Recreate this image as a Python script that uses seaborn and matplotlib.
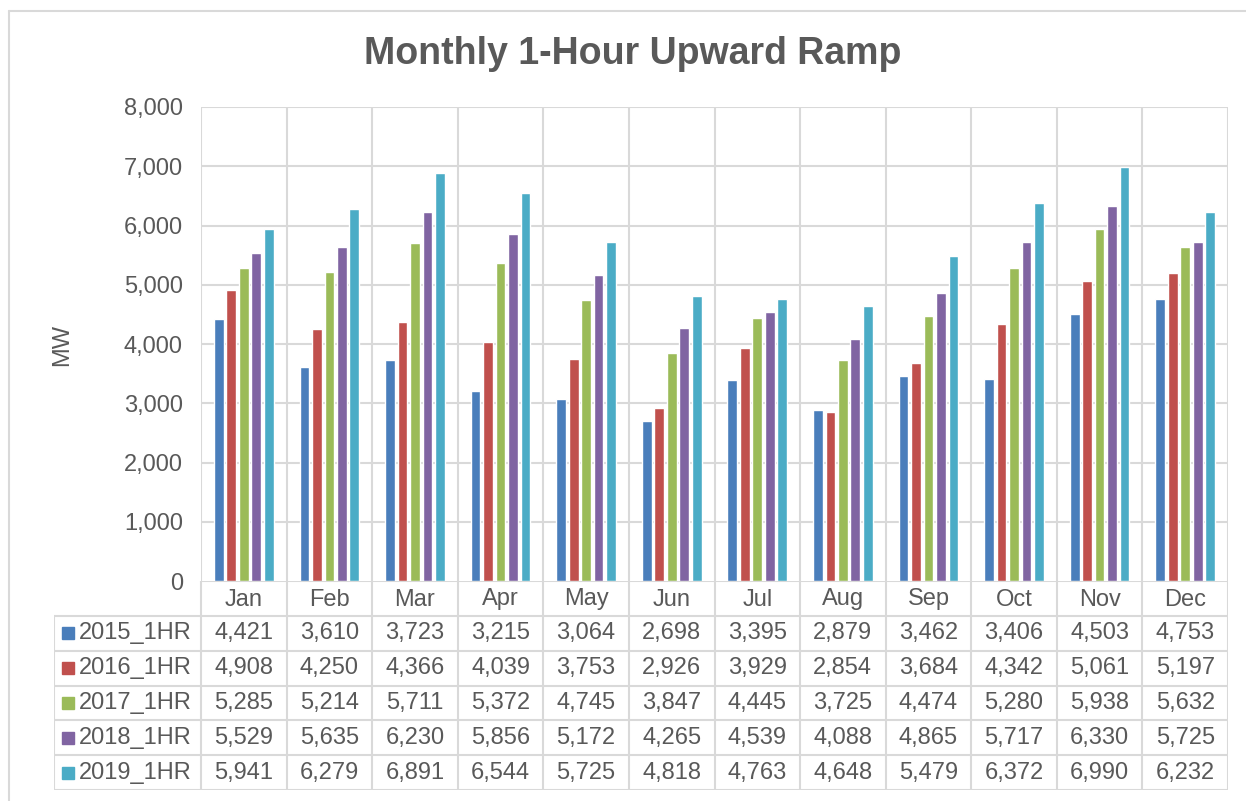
import matplotlib
matplotlib.use("Agg")
import matplotlib.pyplot as plt
from matplotlib.lines import Line2D
import pandas as pd
import seaborn as sns

months = ["Jan", "Feb", "Mar", "Apr", "May", "Jun", "Jul", "Aug", "Sep", "Oct", "Nov", "Dec"]
series_names = ["2015_1HR", "2016_1HR", "2017_1HR", "2018_1HR", "2019_1HR"]
ramp_2015 = [4421, 3610, 3723, 3215, 3064, 2698, 3395, 2879, 3462, 3406, 4503, 4753]
ramp_2016 = [4908, 4250, 4366, 4039, 3753, 2926, 3929, 2854, 3684, 4342, 5061, 5197]
ramp_2017 = [5285, 5214, 5711, 5372, 4745, 3847, 4445, 3725, 4474, 5280, 5938, 5632]
ramp_2018 = [5529, 5635, 6230, 5856, 5172, 4265, 4539, 4088, 4865, 5717, 6330, 5725]
ramp_2019 = [5941, 6279, 6891, 6544, 5725, 4818, 4763, 4648, 5479, 6372, 6990, 6232]
y_ticks = [0, 1000, 2000, 3000, 4000, 5000, 6000, 7000, 8000]

colors = ["#4A7EBB", "#C0504D", "#9BBB59", "#8064A2", "#4BACC6"]
grid_color = "#D9D9D9"
text_color = "#595959"
fs = 17

all_series = [ramp_2015, ramp_2016, ramp_2017, ramp_2018, ramp_2019]
df = pd.DataFrame({
    "month": months * len(series_names),
    "series": [s for s in series_names for _ in months],
    "MW": [v for vals in all_series for v in vals],
})

sns.set_theme(style="white")
plt.rcParams["font.family"] = ["Liberation Sans", "DejaVu Sans"]

W, H = 1246, 801
fig = plt.figure(figsize=(W / 100, H / 100), dpi=100)

# pixel layout of the plot area
px_left, px_right, px_top, px_bottom = 201, 1228, 107, 581
ax = fig.add_axes([px_left / W, 1 - px_bottom / H, (px_right - px_left) / W, (px_bottom - px_top) / H])

sns.barplot(data=df, x="month", y="MW", hue="series", palette=colors,
            width=0.73, gap=0.22, saturation=1, legend=False, ax=ax)

ax.set_xlim(-0.5, len(months) - 0.5)
ax.set_ylim(0, 8000)
ax.set_yticks(y_ticks)
ax.set_yticklabels([f"{t:,}" for t in y_ticks], fontsize=fs, color=text_color)
ax.tick_params(axis="y", length=0, pad=13)
ax.set_xticks([])
ax.set_xlabel("")
ax.set_ylabel("")
for sp in ax.spines.values():
    sp.set_visible(False)
for t in y_ticks[1:]:
    ax.axhline(t, color=grid_color, lw=1.5, zorder=0)
for i in range(len(months) + 1):
    ax.axvline(i - 0.5, color=grid_color, lw=1.5, zorder=0)

fig.text(62 / W, 1 - 345 / H, "MW", rotation=90, ha="center", va="center",
         fontsize=fs, color=text_color)
fig.text(633 / W, 1 - 54 / H, "Monthly 1-Hour Upward Ramp",
         ha="center", va="center", fontsize=27, fontweight="bold", color=text_color)

# --- Data table below the plot ---
tbl_left, tbl_bottom = 54, 790
unit = (px_right - px_left) / len(months)
x0 = -0.5 - (px_left - tbl_left) / unit
tax = fig.add_axes([tbl_left / W, 1 - tbl_bottom / H, (px_right - tbl_left) / W, (tbl_bottom - px_bottom) / H])
tax.set_xlim(x0, len(months) - 0.5)
header_h = 616 - px_bottom
row_h = (tbl_bottom - 616) / len(series_names)
tax.set_ylim(tbl_bottom - px_bottom, 0)
tax.axis("off")

lw = 1.5
tax.plot([-0.5, len(months) - 0.5], [0, 0], color=grid_color, lw=lw)
for r in range(len(series_names) + 1):
    y = header_h + r * row_h
    tax.plot([x0, len(months) - 0.5], [y, y], color=grid_color, lw=lw, solid_capstyle="butt")
for i in range(len(months) + 1):
    tax.plot([i - 0.5, i - 0.5], [0, tbl_bottom - px_bottom], color=grid_color, lw=lw)
tax.plot([x0, x0], [header_h, tbl_bottom - px_bottom], color=grid_color, lw=lw)

for i, m in enumerate(months):
    tax.text(i, header_h / 2 + 1, m, ha="center", va="center", fontsize=fs, color=text_color)

for r, (name, vals) in enumerate(zip(series_names, all_series)):
    yc = header_h + (r + 0.5) * row_h
    tax.plot([x0 + 14 / unit], [yc], marker="s", ms=8, color=colors[r], lw=0)
    tax.text(x0 + 25 / unit, yc, name, ha="left", va="center", fontsize=fs, color=text_color)
    for i, v in enumerate(vals):
        tax.text(i, yc, f"{v:,}", ha="center", va="center", fontsize=fs, color=text_color)

# outer chart frame
fig.add_artist(Line2D([9 / W, 9 / W], [0, 1 - 11 / H], color=grid_color, lw=1.5))
fig.add_artist(Line2D([9 / W, 1], [1 - 11 / H, 1 - 11 / H], color=grid_color, lw=1.5))

fig.savefig("out.png", dpi=100)
